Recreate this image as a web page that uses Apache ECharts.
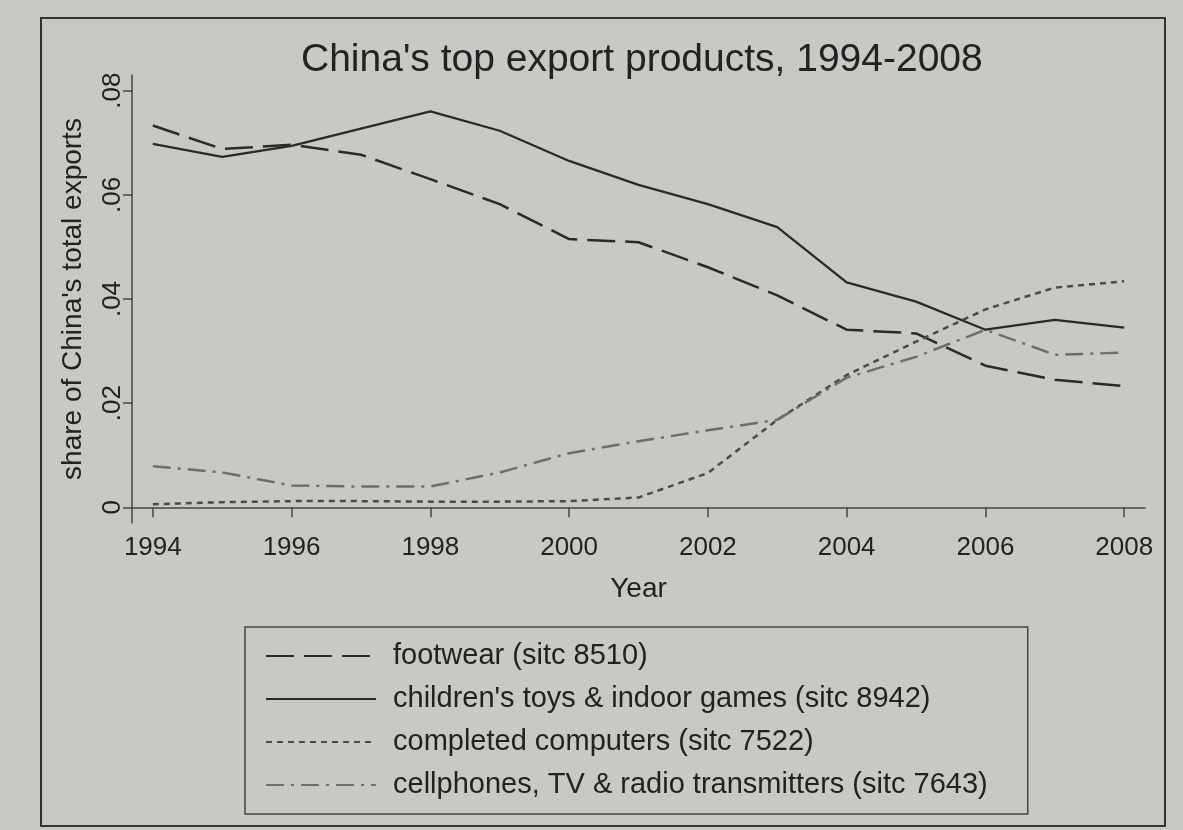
<!DOCTYPE html>
<html><head><meta charset="utf-8">
<script src="https://cdn.jsdelivr.net/npm/echarts@6/dist/echarts.min.js"></script>
<style>html,body{margin:0;padding:0;background:#c9c8c4;}#c{width:1183px;height:830px;}</style>
</head><body><div id="c"></div>
<script>
const years = [1994,1995,1996,1997,1998,1999,2000,2001,2002,2003,2004,2005,2006,2007,2008];
const footwear = [0.0733,0.0688,0.0696,0.0677,0.0630,0.0582,0.0515,0.0509,0.0461,0.0407,0.0341,0.0334,0.0272,0.0245,0.0233];
const toys = [0.0698,0.0673,0.0694,0.0727,0.0760,0.0723,0.0665,0.0619,0.0582,0.0538,0.0432,0.0395,0.0341,0.0360,0.0345];
const computers = [0.0006,0.0010,0.0012,0.0012,0.0011,0.0011,0.0012,0.0019,0.0066,0.0168,0.0254,0.0318,0.0380,0.0422,0.0434];
const cellphones = [0.0079,0.0067,0.0042,0.0040,0.0040,0.0067,0.0104,0.0127,0.0148,0.0168,0.0249,0.0289,0.0341,0.0293,0.0297];
const xTicks = [1994,1996,1998,2000,2002,2004,2006,2008];
const yTicks = [0,0.02,0.04,0.06,0.08];
const yTickLabels = ['0','.02','.04','.06','.08'];
const names = ['footwear (sitc 8510)','children\'s toys & indoor games (sitc 8942)','completed computers (sitc 7522)','cellphones, TV & radio transmitters (sitc 7643)'];

const chart = echarts.init(document.getElementById('c'));
const font = 'Liberation Sans, Arial, sans-serif';
const pair = arr => years.map((y,i)=>[y,arr[i]]);
chart.setOption({
  backgroundColor:'#c9c8c4',
  animation:false,
  title:{text:"China's top export products, 1994-2008",left:296,top:36,
    textStyle:{fontFamily:font,fontSize:39,fontWeight:'normal',color:'#222'}},
  grid:{left:132,right:38,top:75,bottom:307},
  legend:{orient:'vertical',left:245,top:627,itemWidth:110,itemHeight:14,itemGap:13,
    padding:[14,40,14,20],borderColor:'#444',borderWidth:1.5,
    itemStyle:{opacity:0},
    textStyle:{fontFamily:font,fontSize:29,lineHeight:30,color:'#222',padding:[0,0,0,12]},data:names},
  graphic:[{type:'rect',shape:{x:41,y:18,width:1124,height:808},style:{fill:'none',stroke:'#333',lineWidth:2},silent:true}],
  xAxis:{type:'value',min:1993.7,max:2008.3,name:'Year',nameLocation:'middle',nameGap:52,
    nameTextStyle:{fontFamily:font,fontSize:28,color:'#222'},
    axisLine:{show:true,lineStyle:{color:'#444',width:1.5}},
    axisTick:{show:true,length:10,customValues:xTicks,lineStyle:{color:'#444',width:1.5}},
    axisLabel:{customValues:xTicks,fontFamily:font,fontSize:26,color:'#222',margin:12,formatter:v=>String(v)},
    splitLine:{show:false}},
  yAxis:{type:'value',min:-0.003,max:0.083,name:"share of China's total exports",nameLocation:'middle',nameGap:45,
    nameTextStyle:{fontFamily:font,fontSize:28,color:'#222'},
    axisLine:{show:true,lineStyle:{color:'#444',width:1.5}},
    axisTick:{show:true,length:9,customValues:yTicks,lineStyle:{color:'#444',width:1.5}},
    axisLabel:{customValues:yTicks,rotate:90,fontFamily:font,fontSize:26,color:'#222',margin:6,
      formatter:v=>{const i=yTicks.findIndex(t=>Math.abs(t-v)<1e-9);return i>=0?yTickLabels[i]:'';}},
    splitLine:{show:false}},
  series:[
    {name:names[0],type:'line',data:pair(footwear),symbol:'none',lineStyle:{color:'#2a2a2a',width:2.5,type:[28,10]},itemStyle:{color:'#2a2a2a'}},
    {name:names[1],type:'line',data:pair(toys),symbol:'none',lineStyle:{color:'#2a2a2a',width:2.3,type:'solid'},itemStyle:{color:'#2a2a2a'}},
    {name:names[2],type:'line',data:pair(computers),symbol:'none',lineStyle:{color:'#4a4a4a',width:2.5,type:[6,5]},itemStyle:{color:'#4a4a4a'}},
    {name:names[3],type:'line',data:pair(cellphones),symbol:'none',lineStyle:{color:'#6e6e6e',width:2.5,type:[18,7,3,7]},itemStyle:{color:'#6e6e6e'}}
  ]
});
</script></body></html>
